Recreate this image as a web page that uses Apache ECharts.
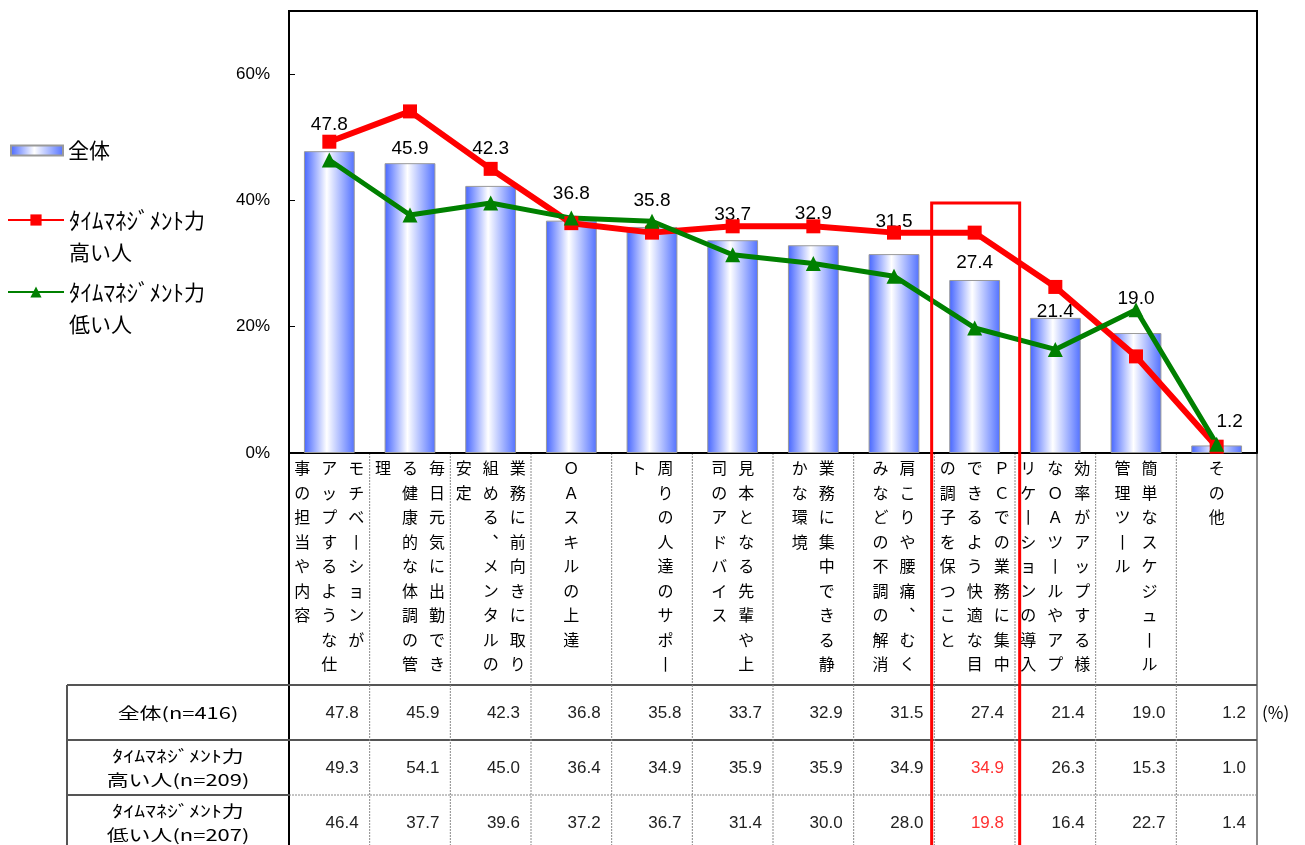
<!DOCTYPE html>
<html>
<head>
    <meta charset="utf-8">
    <title>タイムマネジメント力別 仕事の効率に役立つもの</title>
    <script src="https://cdn.jsdelivr.net/npm/echarts@6/dist/echarts.min.js"></script>
    <style>
        html, body { margin: 0; padding: 0; background: #fff; }
        #chart1 { width: 1305px; height: 845px; }
    </style>
</head>
<body>
<div id="chart1"></div>
<script type="text/javascript">
    // 項目名（縦書き、右の列から順に）
    var categories = [
        ['モチベーションが', 'アップするような仕', '事の担当や内容'],
        ['毎日元気に出勤でき', 'る健康的な体調の管', '理'],
        ['業務に前向きに取り', '組める、メンタルの', '安定'],
        ['ＯＡスキルの上達'],
        ['周りの人達のサポー', 'ト'],
        ['見本となる先輩や上', '司のアドバイス'],
        ['業務に集中できる静', 'かな環境'],
        ['肩こりや腰痛、むく', 'みなどの不調の解消'],
        ['ＰＣでの業務に集中', 'できるよう快適な目', 'の調子を保つこと'],
        ['効率がアップする様', 'なＯＡツールやアプ', 'リケーションの導入'],
        ['簡単なスケジュール', '管理ツール'],
        ['その他']
    ];
    var seriesNames = ['全体', 'ﾀｲﾑﾏﾈｼﾞﾒﾝﾄ力\n高い人', 'ﾀｲﾑﾏﾈｼﾞﾒﾝﾄ力\n低い人'];
    var rowLabels = ['全体(n=416)', 'ﾀｲﾑﾏﾈｼﾞﾒﾝﾄ力\n高い人(n=209)', 'ﾀｲﾑﾏﾈｼﾞﾒﾝﾄ力\n低い人(n=207)'];
    var allValues = [47.8, 45.9, 42.3, 36.8, 35.8, 33.7, 32.9, 31.5, 27.4, 21.4, 19.0, 1.2];
    var highValues = [49.3, 54.1, 45.0, 36.4, 34.9, 35.9, 35.9, 34.9, 34.9, 26.3, 15.3, 1.0];
    var lowValues = [46.4, 37.7, 39.6, 37.2, 36.7, 31.4, 30.0, 28.0, 19.8, 16.4, 22.7, 1.4];
    var yTicks = [0, 20, 40, 60];
    var highlightIndex = 8;

    // 棒グラフのラベル位置の微調整 [dx, dy]
    var labelShift = [[0, -12], [0, 0], [0, -23], [0, -12], [0, -12], [0, -11],
        [0, -17], [0, -18], [0, -3], [0, 8], [0, -20], [13, -9]];

    var jpFont = '"Noto Sans CJK JP", sans-serif';
    var numFont = '"Liberation Sans", Arial, sans-serif';

    var categoryNames = categories.map(function (cols) { return cols.join(''); });

    function tate(ch) {
        var map = {'ー': '丨', '、': '︑'};
        return map[ch] || ch;
    }

    // 縦書きラベルを行ごとの rich テキストに組み立てる
    function tateLabel(cols) {
        var n = 0;
        cols.forEach(function (c) { n = Math.max(n, c.length); });
        var lines = [];
        for (var r = 0; r < n; r++) {
            var s = '';
            for (var c = cols.length - 1; c >= 0; c--) {
                var ch = cols[c].charAt(r) || '　';
                s += '{t|' + tate(ch) + '}';
            }
            lines.push(s);
        }
        return lines.join('\n');
    }

    // 凡例：アイコンを1行目に合わせるため先頭に空行を入れる
    function legendText(name) {
        var p = name.split('\n');
        return '{s|　}\n{k|' + p[0].slice(0, -1) + '}{n|' + p[0].slice(-1) + '}\n{n|' + p[1] + '}';
    }
    var legendRich = {
        s: {fontSize: 20, lineHeight: 32},
        k: {fontSize: 23, lineHeight: 32, color: '#000', fontFamily: jpFont},
        n: {fontSize: 21, lineHeight: 32, color: '#000', fontFamily: jpFont}
    };

    var barGradient = new echarts.graphic.LinearGradient(0, 0, 1, 0, [
        {offset: 0, color: '#4565ff'},
        {offset: 0.45, color: '#ffffff'},
        {offset: 1, color: '#5271ff'}
    ]);

    var myChart1 = echarts.init(document.getElementById('chart1'));

    var option = {
        animation: false,
        grid: {
            left: 289, top: 11, right: 48, bottom: 392,
            show: true, borderColor: '#000', borderWidth: 2
        },
        legend: [
            {
                data: [seriesNames[0]], left: 10, top: 134, padding: 0,
                icon: 'rect', itemWidth: 52, itemHeight: 10, selectedMode: false,
                textStyle: {fontSize: 21, lineHeight: 33, color: '#000', fontFamily: jpFont}
            },
            {
                data: [seriesNames[1]], left: 7, top: 178, padding: 0,
                itemWidth: 56, itemHeight: 14, selectedMode: false,
                formatter: legendText,
                textStyle: {rich: legendRich}
            },
            {
                data: [seriesNames[2]], left: 7, top: 250, padding: 0,
                itemWidth: 56, itemHeight: 14, selectedMode: false,
                formatter: legendText,
                textStyle: {rich: legendRich}
            }
        ],
        xAxis: {
            type: 'category',
            data: categoryNames,
            axisLine: {lineStyle: {color: '#000', width: 2}},
            axisTick: {show: false},
            axisLabel: {
                interval: 0,
                margin: 3,
                formatter: function (value, idx) {
                    return tateLabel(categories[idx]);
                },
                rich: {
                    t: {width: 27, align: 'center', fontSize: 16, lineHeight: 24.5, color: '#000', fontFamily: jpFont}
                }
            }
        },
        yAxis: {
            type: 'value',
            min: yTicks[0],
            max: 70,
            interval: yTicks[1] - yTicks[0],
            axisLine: {show: true, lineStyle: {color: '#000', width: 2}},
            axisTick: {show: true, inside: true, length: 6, lineStyle: {color: '#000'}},
            splitLine: {show: false},
            axisLabel: {
                showMaxLabel: false,
                formatter: '{value}%',
                margin: 19,
                fontSize: 17,
                color: '#000',
                fontFamily: numFont
            }
        },
        series: [
            {
                name: seriesNames[0],
                type: 'bar',
                barWidth: '63%',
                itemStyle: {color: barGradient, borderColor: '#9a9a9a', borderWidth: 1},
                label: {
                    show: true,
                    position: 'top',
                    fontSize: 19,
                    color: '#000',
                    fontFamily: numFont,
                    formatter: function (p) { return p.value.toFixed(1); }
                },
                data: allValues.map(function (v, i) {
                    return {value: v, label: {offset: labelShift[i]}};
                })
            },
            {
                name: seriesNames[1],
                type: 'line',
                symbol: 'rect',
                symbolSize: 14,
                itemStyle: {color: '#ff0000'},
                lineStyle: {color: '#ff0000', width: 6},
                data: highValues
            },
            {
                name: seriesNames[2],
                type: 'line',
                symbol: 'triangle',
                symbolSize: 15,
                itemStyle: {color: '#008000'},
                lineStyle: {color: '#008000', width: 5},
                data: lowValues
            }
        ]
    };

    myChart1.setOption(option);

    // 下の表（位置は軸から取得）
    var xs = categoryNames.map(function (c, i) {
        return myChart1.convertToPixel({xAxisIndex: 0}, i);
    });
    var step = xs[1] - xs[0];
    var axisY = myChart1.convertToPixel({yAxisIndex: 0}, 0);
    var leftEdge = xs[0] - step / 2;
    var rightEdge = xs[xs.length - 1] + step / 2;
    var tableLeft = 67, tableTop = 685, rowH = 55;
    var tableRows = [allValues, highValues, lowValues];

    var g = [];
    function line(x1, y1, x2, y2, color, width, dashed) {
        g.push({
            type: 'line', silent: true,
            shape: {x1: x1, y1: y1, x2: x2, y2: y2},
            style: {stroke: color, lineWidth: width, lineDash: dashed ? [2, 1] : null}
        });
    }

    // 項目名エリアの区切り線
    for (var i = 1; i < xs.length; i++) {
        line(leftEdge + step * i, axisY, leftEdge + step * i, tableTop, '#8a8a8a', 1, true);
    }
    line(leftEdge, axisY, leftEdge, tableTop + rowH * 3 + 10, '#000', 2);
    line(rightEdge, axisY, rightEdge, tableTop + rowH * 3 + 10, '#888', 2);

    // 表の罫線
    line(tableLeft, tableTop, rightEdge, tableTop, '#555', 2);
    line(tableLeft, tableTop + rowH, rightEdge, tableTop + rowH, '#555', 2);
    line(tableLeft, tableTop + rowH * 2, leftEdge, tableTop + rowH * 2, '#555', 2);
    line(leftEdge, tableTop + rowH * 2, rightEdge, tableTop + rowH * 2, '#8a8a8a', 1, true);
    line(tableLeft, tableTop, tableLeft, tableTop + rowH * 3 + 10, '#555', 2);
    for (var j = 1; j < xs.length; j++) {
        line(leftEdge + step * j, tableTop, leftEdge + step * j, tableTop + rowH * 3 + 10, '#8a8a8a', 1, true);
    }

    // 表の文字
    rowLabels.forEach(function (label, r) {
        g.push({
            type: 'text', silent: true,
            x: (tableLeft + leftEdge) / 2, y: tableTop + rowH * r + rowH / 2,
            scaleX: 1.37,
            style: {
                text: label, fill: '#000', align: 'center', verticalAlign: 'middle',
                fontSize: 16, lineHeight: 24, fontFamily: jpFont
            }
        });
        tableRows[r].forEach(function (v, c) {
            var red = (c === highlightIndex && r > 0);
            g.push({
                type: 'text', silent: true,
                x: xs[c] + step / 2 - 11, y: tableTop + rowH * r + rowH / 2 + 1,
                style: {
                    text: v.toFixed(1), fill: red ? '#ff3030' : '#222', align: 'right', verticalAlign: 'middle',
                    fontSize: 17, fontFamily: numFont
                }
            });
        });
    });
    g.push({
        type: 'text', silent: true,
        x: rightEdge + 5, y: tableTop + rowH / 2,
        style: {text: '(%)', fill: '#000', align: 'left', verticalAlign: 'middle', fontSize: 17, fontFamily: jpFont}
    });

    // 強調の赤枠
    g.push({
        type: 'rect', silent: true, z: 10,
        shape: {x: xs[highlightIndex] - 43, y: 203, width: 88, height: 700},
        style: {fill: null, stroke: '#ff0000', lineWidth: 3}
    });

    myChart1.setOption({graphic: g});
</script>
</body>
</html>
